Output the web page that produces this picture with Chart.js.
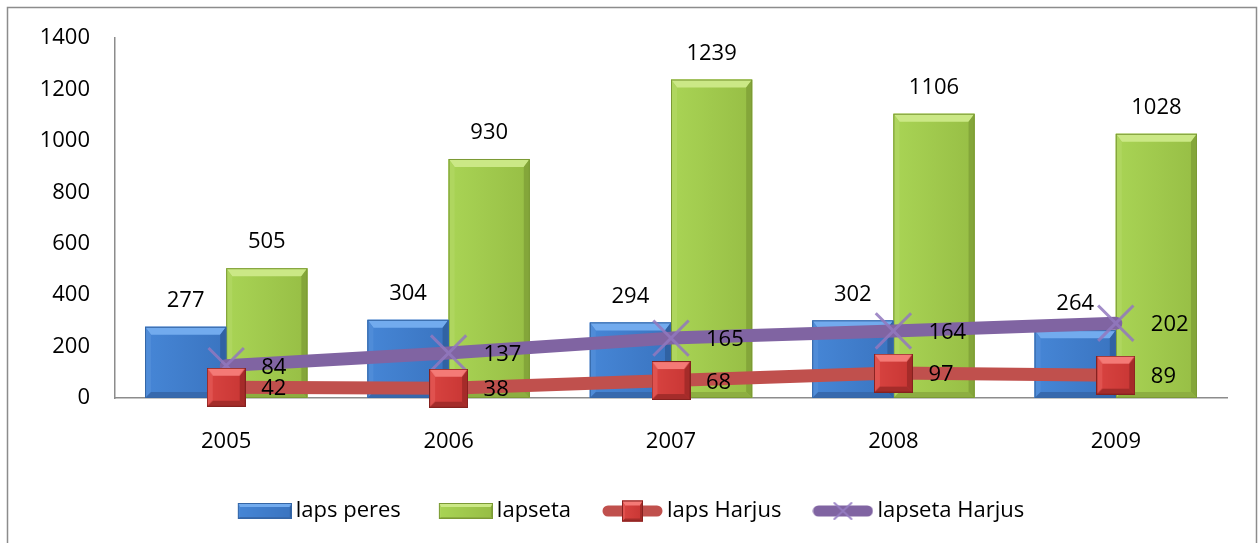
<!DOCTYPE html>
<html>
<head>
<meta charset="utf-8">
<script src="https://cdn.jsdelivr.net/npm/chart.js@4.4.1/dist/chart.umd.min.js"></script>
<style>
    html, body { margin: 0; padding: 0; background: #fff; }
    #wrap { width: 1259px; height: 543px; }
</style>
</head>
<body>
<div id="wrap"><canvas id="chart" width="1259" height="543"></canvas></div>
<script>
// Data
const years = ['2005', '2006', '2007', '2008', '2009'];
const lapsPeres = [277, 304, 294, 302, 264];
const lapseta = [505, 930, 1239, 1106, 1028];
const lapsHarjus = [42, 38, 68, 97, 89];
const lapsetaHarjus = [84, 137, 165, 164, 202];
const yMin = 0, yMax = 1400, yStep = 200;

const FONT = '"Open Sans", "Noto Sans", sans-serif';

// Bevel colours
const blueBevel = { bodyL: '#4686d6', bodyR: '#3a74c0', top: '#72abee', left: '#4f8cd8', right: '#3062a3', bottom: '#3769ad', edge: '#3566a6' };
const greenBevel = { bodyL: '#a9d455', bodyR: '#97be45', top: '#cbe886', left: '#afd65f', right: '#84a63a', bottom: '#8dae41', edge: '#7b9a35' };
const redBevel = { bodyL: '#d94441', bodyR: '#c83634', top: '#f47a76', left: '#e0524f', right: '#a52b29', bottom: '#a42c2a', edge: '#86211f' };

function drawBevel(ctx, x, y, w, h, c, b) {
    const g = ctx.createLinearGradient(x, 0, x + w, 0);
    g.addColorStop(0, c.bodyL);
    g.addColorStop(1, c.bodyR);
    ctx.fillStyle = g;
    ctx.fillRect(x, y, w, h);
    const poly = (pts, col) => {
        ctx.beginPath();
        ctx.moveTo(pts[0][0], pts[0][1]);
        for (let i = 1; i < pts.length; i++) ctx.lineTo(pts[i][0], pts[i][1]);
        ctx.closePath();
        ctx.fillStyle = col;
        ctx.fill();
    };
    const bs = Math.max(2, b - 2);
    poly([[x, y], [x + w, y], [x + w - bs, y + b], [x + bs, y + b]], c.top);
    poly([[x, y], [x + bs, y + b], [x + bs, y + h - bs], [x, y + h]], c.left);
    poly([[x + w, y], [x + w, y + h], [x + w - bs, y + h - bs], [x + w - bs, y + b]], c.right);
    poly([[x, y + h], [x + bs, y + h - bs], [x + w - bs, y + h - bs], [x + w, y + h]], c.bottom);
    ctx.strokeStyle = c.edge;
    ctx.lineWidth = 1;
    ctx.strokeRect(x + 0.5, y + 0.5, w - 1, h - 1);
}

// Red square marker
function makeSquare(size, b) {
    const cv = document.createElement('canvas');
    cv.width = size; cv.height = size;
    drawBevel(cv.getContext('2d'), 0, 0, size, size, redBevel, b);
    return cv;
}

// Legend swatches (all 61 wide so the text lines up)
function barSwatch(c) {
    const cv = document.createElement('canvas');
    cv.width = 61; cv.height = 16;
    drawBevel(cv.getContext('2d'), 7, 0, 54, 16, c, 4);
    return cv;
}
function lineSwatch(color, marker) {
    const cv = document.createElement('canvas');
    cv.width = 61; cv.height = 22;
    const ctx = cv.getContext('2d');
    ctx.strokeStyle = color;
    ctx.lineWidth = 11;
    ctx.lineCap = 'round';
    ctx.beginPath();
    ctx.moveTo(6, 11); ctx.lineTo(55, 11);
    ctx.stroke();
    if (marker === 'square') {
        drawBevel(ctx, 20, 0.5, 21, 21, redBevel, 5);
    } else {
        ctx.strokeStyle = 'rgba(150,125,195,0.9)';
        ctx.lineWidth = 2;
        ctx.beginPath();
        ctx.moveTo(22, 3); ctx.lineTo(39, 19);
        ctx.moveTo(39, 3); ctx.lineTo(22, 19);
        ctx.stroke();
    }
    return cv;
}

const redMarker = makeSquare(39, 8);

// Outer frame
const framePlugin = {
    id: 'frame',
    beforeDraw(chart) {
        const ctx = chart.ctx;
        ctx.save();
        ctx.strokeStyle = '#8c8c8c';
        ctx.lineWidth = 1.5;
        ctx.strokeRect(7.5, 7.5, 1249, 560);
        ctx.restore();
    }
};

// Bevel on the bars
const bevelPlugin = {
    id: 'bevel',
    afterDatasetDraw(chart, args) {
        const ds = chart.data.datasets[args.index];
        if (!ds.bevel) return;
        const ctx = chart.ctx;
        ctx.save();
        args.meta.data.forEach(el => {
            const p = el.getProps(['x', 'y', 'base', 'width'], true);
            const top = Math.min(p.y, p.base);
            const h = Math.abs(p.base - p.y);
            drawBevel(ctx, p.x - p.width / 2, top, p.width, h, ds.bevel, 8);
        });
        ctx.restore();
    }
};

// Value labels
const labelPlugin = {
    id: 'valueLabels',
    afterDatasetsDraw(chart) {
        const ctx = chart.ctx;
        ctx.save();
        ctx.font = '22px ' + FONT;
        ctx.fillStyle = '#000';
        ctx.textBaseline = 'middle';
        chart.data.datasets.forEach((ds, i) => {
            const meta = chart.getDatasetMeta(i);
            meta.data.forEach((el, j) => {
                const v = ds.data[j];
                if (ds.type === 'bar') {
                    ctx.textAlign = 'center';
                    ctx.fillText(v, el.x, el.y - 26);
                } else {
                    ctx.textAlign = 'left';
                    ctx.fillText(v, el.x + 35, el.y + 2);
                }
            });
        });
        ctx.restore();
    }
};

const swatches = [barSwatch(blueBevel), barSwatch(greenBevel), lineSwatch('#c0504d', 'square'), lineSwatch('#8064a2', 'cross')];

new Chart(document.getElementById('chart'), {
    data: {
        labels: years,
        datasets: [
            { type: 'bar', label: 'laps peres', data: lapsPeres, backgroundColor: blueBevel.bodyR, bevel: blueBevel, yAxisID: 'y', order: 1 },
            { type: 'bar', label: 'lapseta', data: lapseta, backgroundColor: greenBevel.bodyR, bevel: greenBevel, yAxisID: 'y', order: 1 },
            {
                type: 'line', label: 'laps Harjus', data: lapsHarjus, yAxisID: 'y2', order: 0,
                borderColor: '#c0504d', borderWidth: 13, borderCapStyle: 'round', borderJoinStyle: 'round',
                pointStyle: redMarker, pointRadius: 19, tension: 0, clip: false
            },
            {
                type: 'line', label: 'lapseta Harjus', data: lapsetaHarjus, yAxisID: 'y2', order: 0,
                borderColor: '#8064a2', borderWidth: 13, borderCapStyle: 'round', borderJoinStyle: 'round',
                pointStyle: 'crossRot', pointRadius: 25, pointBorderWidth: 3, pointBorderColor: 'rgba(146,120,190,0.85)',
                tension: 0, clip: false
            }
        ]
    },
    options: {
        responsive: false,
        animation: false,
        events: [],
        layout: { padding: { left: 34, right: 31, top: 35, bottom: 11 } },
        datasets: { bar: { barPercentage: 1, categoryPercentage: 0.73 } },
        scales: {
            x: {
                grid: { display: false, drawTicks: false },
                border: { display: true, color: '#8c8c8c', width: 1.5 },
                ticks: { color: '#000', font: { family: FONT, size: 22 }, padding: 31 },
                afterFit(scale) { scale.height = 64; }
            },
            y: {
                min: yMin, max: yMax,
                grid: { display: false, drawTicks: false },
                border: { display: true, color: '#8c8c8c', width: 1.5 },
                ticks: { stepSize: yStep, color: '#000', font: { family: FONT, size: 22 }, padding: 25, callback: v => String(v) },
                afterFit(scale) { scale.width = 81; }
            },
            y2: {
                display: false, stacked: true, min: yMin, max: yMax
            }
        },
        plugins: {
            tooltip: { enabled: false },
            legend: {
                position: 'bottom',
                labels: {
                    usePointStyle: true,
                    pointStyleWidth: 47,
                    padding: 38,
                    color: '#000',
                    font: { family: FONT, size: 22 },
                    generateLabels(chart) {
                        return chart.data.datasets.map((ds, i) => ({
                            text: ds.label,
                            pointStyle: swatches[i],
                            fillStyle: 'transparent',
                            strokeStyle: 'transparent',
                            lineWidth: 0,
                            fontColor: '#000',
                            datasetIndex: i
                        }));
                    }
                }
            }
        }
    },
    plugins: [framePlugin, bevelPlugin, labelPlugin]
});
</script>
</body>
</html>
